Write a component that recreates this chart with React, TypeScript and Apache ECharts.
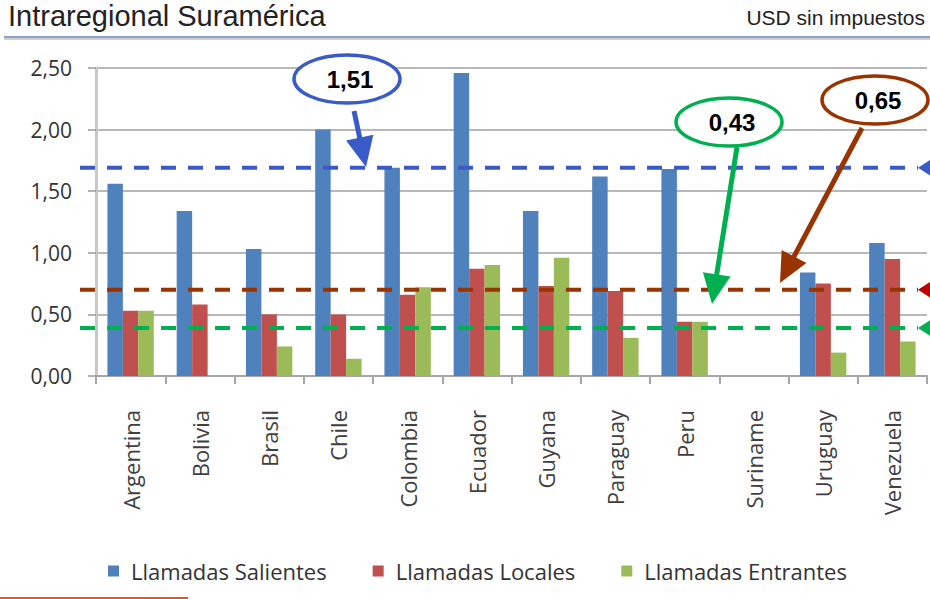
import React, { useEffect, useRef } from "react";
import * as echarts from "echarts";

const categories = ["Argentina", "Bolivia", "Brasil", "Chile", "Colombia", "Ecuador", "Guyana", "Paraguay", "Peru", "Suriname", "Uruguay", "Venezuela"];
const salientes = [1.56, 1.34, 1.03, 2.0, 1.69, 2.46, 1.34, 1.62, 1.68, null, 0.84, 1.08];
const locales = [0.53, 0.58, 0.5, 0.5, 0.66, 0.87, 0.73, 0.69, 0.44, null, 0.75, 0.95];
const entrantes = [0.53, null, 0.24, 0.14, 0.72, 0.9, 0.96, 0.31, 0.44, null, 0.19, 0.28];
const seriesNames = ["Llamadas Salientes", "Llamadas Locales", "Llamadas Entrantes"];
const seriesColors = ["#4f81bd", "#c0504d", "#9bbb59"];
const yTicks = { min: 0, max: 2.5, interval: 0.5 };
// reference lines (position on value axis) and their callout labels
const refLines = [
  { value: 1.69, label: "1,51", color: "#3a5bc7", tri: "#3a5bc7" },
  { value: 0.7, label: "0,65", color: "#993300", tri: "#c00000" },
  { value: 0.39, label: "0,43", color: "#00b050", tri: "#00b050" },
];

const FONT = "'Open Sans', 'DejaVu Sans', sans-serif";
const ARIAL = "'Liberation Sans', Arial, sans-serif";

function arrow(x1: number, y1: number, x2: number, y2: number, color: string) {
  const dx = x2 - x1, dy = y2 - y1;
  const len = Math.sqrt(dx * dx + dy * dy);
  const ux = dx / len, uy = dy / len;
  const hl = 30, hw = 14;
  const bx = x2 - ux * hl, by = y2 - uy * hl;
  const px = -uy, py = ux;
  return [
    { type: "line", shape: { x1, y1, x2: bx + ux * 2, y2: by + uy * 2 }, style: { stroke: color, lineWidth: 5 }, z: 100 },
    {
      type: "polygon",
      shape: { points: [[x2, y2], [bx + px * hw, by + py * hw], [bx - px * hw, by - py * hw]] },
      style: { fill: color },
      z: 100,
    },
  ];
}

export default function App() {
  const ref = useRef<HTMLDivElement>(null);
  useEffect(() => {
    const chart = echarts.init(ref.current!, null, { renderer: "svg" });
    chart.setOption({
      animation: false,
      backgroundColor: "#ffffff",
      grid: { left: 96, right: 3, top: 68, bottom: 223 },
      legend: {
        data: seriesNames,
        left: 103,
        top: 555,
        icon: "rect",
        itemWidth: 11,
        itemHeight: 11,
        itemGap: 46,
        textStyle: { fontFamily: FONT, fontSize: 22, color: "#333333", padding: [0, 0, 0, 7] },
      },
      xAxis: {
        type: "category",
        data: categories,
        axisLine: { lineStyle: { color: "#a6a6a6", width: 2 } },
        axisTick: { show: true, length: 8, lineStyle: { color: "#a6a6a6", width: 2 } },
        axisLabel: { rotate: 90, margin: 34, fontFamily: FONT, fontSize: 22, color: "#404040", interval: 0 },
      },
      yAxis: {
        type: "value",
        min: yTicks.min,
        max: yTicks.max,
        interval: yTicks.interval,
        axisLine: { show: true, lineStyle: { color: "#c8c8c8", width: 3 } },
        axisTick: { show: true, length: 8, inside: false, lineStyle: { color: "#999999", width: 1.5 } },
        splitLine: { lineStyle: { color: "#a0a0a0", width: 1.5 } },
        axisLabel: {
          margin: 24,
          fontFamily: FONT,
          fontSize: 21,
          color: "#333333",
          formatter: (v: number) => v.toFixed(2).replace(".", ","),
        },
      },
      series: [salientes, locales, entrantes].map((d, i) => ({
        name: seriesNames[i],
        type: "bar",
        data: d,
        barGap: "0%",
        barCategoryGap: "33%",
        itemStyle: { color: seriesColors[i] },
      })),
    });

    const left = 80, right = 918;
    const graphic: any[] = [
      { type: "text", left: 8, top: 1, style: { text: "Intraregional Suramérica", fontFamily: ARIAL, fontSize: 29, fill: "#222222" } },
      { type: "text", right: 5, top: 7, style: { text: "USD sin impuestos", fontFamily: ARIAL, fontSize: 21, fill: "#222222" } },
      { type: "rect", shape: { x: 4, y: 36, width: 926, height: 2 }, style: { fill: "#8aa4c8" } },
      { type: "rect", shape: { x: 4, y: 38, width: 926, height: 2 }, style: { fill: "#d0d0d0" } },
      { type: "rect", shape: { x: 0, y: 597, width: 188, height: 2 }, style: { fill: "#ff4a1a" } },
    ];
    refLines.forEach((r) => {
      const y = chart.convertToPixel({ yAxisIndex: 0 }, r.value) as number;
      graphic.push({
        type: "line",
        shape: { x1: left, y1: y, x2: right, y2: y },
        style: { stroke: r.color, lineWidth: 4, lineDash: [15, 12] },
        z: 90,
      });
      graphic.push({
        type: "polygon",
        shape: { points: [[918, y], [932, y - 9], [932, y + 9]] },
        style: { fill: r.tri },
        z: 90,
      });
    });
    const callouts = [
      { cx: 347, cy: 79, text: refLines[0].label, color: refLines[0].color, arrow: [354, 111, 366, 167] },
      { cx: 729, cy: 122, text: refLines[2].label, color: refLines[2].color, arrow: [737, 147, 712, 304] },
      { cx: 875, cy: 100, text: refLines[1].label, color: refLines[1].color, arrow: [862, 128, 780, 283] },
    ];
    callouts.forEach((c) => {
      graphic.push(...arrow(c.arrow[0], c.arrow[1], c.arrow[2], c.arrow[3], c.color));
      graphic.push({
        type: "ellipse",
        shape: { cx: c.cx, cy: c.cy, rx: 53, ry: 24 },
        style: { fill: "#ffffff", stroke: c.color, lineWidth: 3.5 },
        z: 101,
      });
      graphic.push({
        type: "text",
        x: c.cx + 3,
        y: c.cy,
        style: {
          text: c.text,
          fontFamily: ARIAL,
          fontWeight: "bold",
          fontSize: 24,
          fill: "#000000",
          align: "center",
          verticalAlign: "middle",
        },
        z: 102,
      });
    });
    chart.setOption({ graphic });
    return () => chart.dispose();
  }, []);
  return <div ref={ref} style={{ width: 930, height: 599, position: "absolute", left: 0, top: 0 }} />;
}
